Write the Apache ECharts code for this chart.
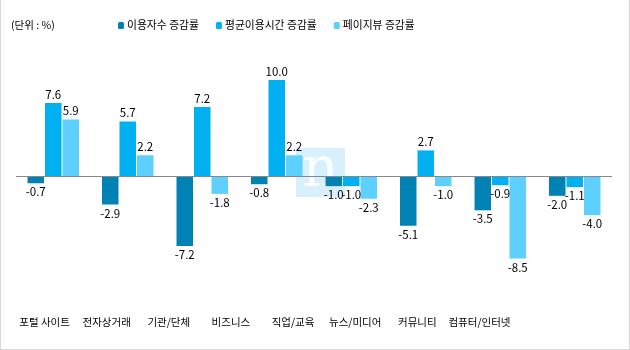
<!DOCTYPE html>
<html><head><meta charset="utf-8">
<script src="https://cdn.jsdelivr.net/npm/echarts@6/dist/echarts.min.js"></script>
<style>html,body{margin:0;padding:0;background:#fff}#c{width:630px;height:350px;box-sizing:border-box;border:1px solid #d9d9d9;border-top:none}</style>
</head><body><div id="c"></div>
<script>
const categories = ['포털 사이트','전자상거래','기관/단체','비즈니스','직업/교육','뉴스/미디어','커뮤니티','컴퓨터/인터넷'];
const seriesNames = ['이용자수 증감률','평균이용시간 증감률','페이지뷰 증감률'];
const users = [-0.7,-2.9,-7.2,-0.8,-1.0,-5.1,-3.5,-2.0];
const avgTime = [7.6,5.7,7.2,10.0,-1.0,2.7,-0.9,-1.1];
const pageViews = [5.9,2.2,-1.8,2.2,-2.3,-1.0,-8.5,-4.0];
const colors = ['#0083B4','#00B0F0','#5DD0FF'];
const font = 'Noto Sans CJK KR';

const chart = echarts.init(document.getElementById('c'));
const lbl = {show:true, color:'#000', fontSize:11.5, fontFamily:font, distance:3,
  position:'top', formatter: p => p.value.toFixed(1)};
function mk(name, data, i){
  return {name, type:'bar', data: data.map(v => ({value:v, label:{position: v<0?'bottom':'top'}})),
    itemStyle:{color:colors[i]}, barWidth:16.5, barGap:'6%', label:lbl, xAxisIndex:0, yAxisIndex:0,
    emphasis:{disabled:true}};
}
const s = [mk(seriesNames[0],users,0), mk(seriesNames[1],avgTime,1), mk(seriesNames[2],pageViews,2)];
s[0].markLine = {silent:true, symbol:'none', label:{show:false},
  lineStyle:{color:'#888', type:'solid', width:1}, data:[{yAxis:0}]};
chart.setOption({
  animation:false,
  title:{text:'(단위 : %)', left:10, top:20, padding:0, textStyle:{fontSize:10.5, fontWeight:'normal', color:'#000', fontFamily:font}},
  legend:{data:seriesNames, left:117, top:20, padding:0, itemWidth:6, itemHeight:7, itemGap:17,
    textStyle:{fontSize:10.8, color:'#000', fontFamily:font, padding:[0,0,0,-2]}},
  grid:[{left:15, right:17, top:60.6, bottom:56.6},
        {left:12.5, width:497, top:60.6, bottom:56.6}],
  xAxis:[{type:'category', data:categories, gridIndex:0, axisLine:{show:false}, axisTick:{show:false}, axisLabel:{show:false}},
         {type:'category', data:categories, gridIndex:1, position:'bottom',
          axisLine:{show:false}, axisTick:{show:false},
          axisLabel:{fontSize:10.5, color:'#000', fontFamily:font, margin:24, interval:0}}],
  yAxis:[{type:'value', min:-12, max:12, gridIndex:0, show:false, splitLine:{show:false}},
         {type:'value', min:-12, max:12, gridIndex:1, show:false, splitLine:{show:false}}],
  graphic:[{type:'group', left:295, top:143, z:100, children:[
    {type:'rect', shape:{x:0,y:0,width:49,height:49}, style:{fill:'rgba(190,230,250,0.6)'}},
    {type:'text', x:24.5, y:23, style:{text:'n', fill:'rgba(255,255,255,0.9)', fontSize:56, fontFamily:'DejaVu Serif', align:'center', verticalAlign:'middle'}}
  ]}],
  series:s
});
</script></body></html>
